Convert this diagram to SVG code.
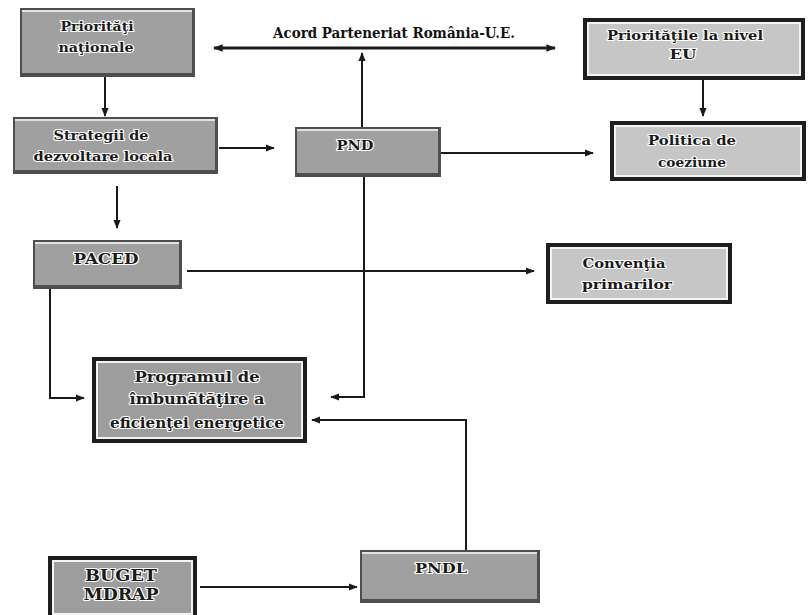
<svg xmlns="http://www.w3.org/2000/svg" width="808" height="615" viewBox="0 0 808 615">
<defs>
<marker id="ah" viewBox="0 0 10 10" refX="9" refY="5" markerWidth="4.5" markerHeight="4.5" orient="auto-start-reverse" markerUnits="strokeWidth">
<path d="M0,1 L10,5 L0,9 Z" fill="#1a1a1a"/>
</marker>
<marker id="ah2" viewBox="0 0 10 10" refX="9" refY="5" markerWidth="3.2" markerHeight="3.2" orient="auto-start-reverse" markerUnits="strokeWidth">
<path d="M0,1 L10,5 L0,9 Z" fill="#1a1a1a"/>
</marker>
</defs>
<style>
.bo{fill:#4e4e4e}
.bi{fill:#a0a0a0}
.bh{stroke:#e2e2e2;stroke-width:2;fill:none}
.fo{fill:#1e1e1e}
.fw{fill:none;stroke:#f4f4f4;stroke-width:2}
.fg{fill:#9d9d9d}
.fl{fill:#c6c6c6}
.t{font-family:"DejaVu Serif","Liberation Serif",serif;font-weight:bold;font-size:13px;fill:#1a1a1a;text-anchor:middle;stroke:#ffffff;stroke-width:2.2px;paint-order:stroke;stroke-linejoin:round}
.tm{font-size:14px}
.tl{font-size:16px}
.c{fill:none;stroke:#1a1a1a;stroke-width:2}
.cw{fill:none;stroke:#1a1a1a;stroke-width:3}
.lab{font-family:"DejaVu Serif","Liberation Serif",serif;font-weight:bold;font-size:14px;fill:#111;text-anchor:middle}
</style>
<rect width="808" height="615" fill="#ffffff"/>

<g id="connectors">
<line class="cw" x1="214" y1="48" x2="555" y2="48" marker-start="url(#ah2)" marker-end="url(#ah2)"/>
<line class="c" x1="362" y1="127" x2="362" y2="53" marker-end="url(#ah)"/>
<line class="c" x1="105" y1="77" x2="105" y2="116" marker-end="url(#ah)"/>
<line class="c" x1="219" y1="148" x2="274" y2="148" marker-end="url(#ah)"/>
<line class="c" x1="441" y1="153" x2="593" y2="153" marker-end="url(#ah)"/>
<line class="c" x1="703" y1="80" x2="703" y2="116" marker-end="url(#ah)"/>
<line class="c" x1="117" y1="186" x2="117" y2="228" marker-end="url(#ah)"/>
<line class="c" x1="187" y1="271" x2="534" y2="271" marker-end="url(#ah)"/>
<polyline class="c" points="364,177 364,397 331,397" marker-end="url(#ah)"/>
<polyline class="c" points="50,289 50,398 84,398" marker-end="url(#ah)"/>
<polyline class="c" points="466,550 466,420 312,420" marker-end="url(#ah)"/>
<line class="c" x1="200" y1="587" x2="357" y2="587" marker-end="url(#ah)"/>
<text class="lab" x="394" y="38" textLength="242" lengthAdjust="spacingAndGlyphs">Acord Parteneriat România-U.E.</text>
</g>

<g id="n-prioritati-nationale">
<rect class="bo" x="20" y="8" width="175" height="69"/>
<rect class="bi" x="22" y="10" width="170" height="63"/>
<path class="bh" d="M22,11 H192"/>
<text class="t" x="97" y="31" textLength="73" lengthAdjust="spacingAndGlyphs">Priorităţi</text>
<text class="t" x="96" y="52" textLength="75" lengthAdjust="spacingAndGlyphs">naţionale</text>
</g>

<g id="n-strategii">
<rect class="bo" x="13" y="117" width="205" height="57"/>
<rect class="bi" x="15" y="119" width="200" height="51"/>
<path class="bh" d="M15,120 H215"/>
<text class="t" x="101" y="140" textLength="95" lengthAdjust="spacingAndGlyphs">Strategii de</text>
<text class="t" x="103" y="161" textLength="139" lengthAdjust="spacingAndGlyphs">dezvoltare locala</text>
</g>

<g id="n-pnd">
<rect class="bo" x="295" y="127" width="146" height="50"/>
<rect class="bi" x="297" y="129" width="141" height="44"/>
<path class="bh" d="M297,130 H438"/>
<text class="t" x="355" y="150" textLength="37" lengthAdjust="spacingAndGlyphs">PND</text>
</g>

<g id="n-prioritati-eu">
<rect class="fo" x="583" y="18" width="222" height="62"/>
<rect class="fl" x="587" y="22" width="214" height="54"/>
<rect class="fw" x="588" y="23" width="212" height="52"/>
<text class="t" x="685" y="40" textLength="156" lengthAdjust="spacingAndGlyphs">Priorităţile la nivel</text>
<text class="t" x="683" y="59" textLength="27" lengthAdjust="spacingAndGlyphs">EU</text>
</g>

<g id="n-politica">
<rect class="fo" x="610" y="121" width="196" height="60"/>
<rect class="fl" x="614" y="125" width="188" height="52"/>
<rect class="fw" x="615" y="126" width="186" height="50"/>
<text class="t" x="692" y="145" textLength="88" lengthAdjust="spacingAndGlyphs">Politica de</text>
<text class="t" x="692" y="167" textLength="68" lengthAdjust="spacingAndGlyphs">coeziune</text>
</g>

<g id="n-paced">
<rect class="bo" x="33" y="240" width="149" height="49"/>
<rect class="bi" x="35" y="242" width="144" height="43"/>
<path class="bh" d="M35,243 H179"/>
<text class="t tm" x="106" y="264" textLength="65" lengthAdjust="spacingAndGlyphs">PACED</text>
</g>

<g id="n-conventia">
<rect class="fo" x="546" y="243" width="186" height="61"/>
<rect class="fl" x="550" y="247" width="178" height="53"/>
<rect class="fw" x="551" y="248" width="176" height="51"/>
<text class="t" x="624" y="268" textLength="83" lengthAdjust="spacingAndGlyphs">Convenţia</text>
<text class="t" x="627" y="289" textLength="90" lengthAdjust="spacingAndGlyphs">primarilor</text>
</g>

<g id="n-programul">
<rect class="fo" x="92" y="357" width="215" height="86"/>
<rect class="fg" x="96" y="361" width="207" height="78"/>
<rect class="fw" x="97" y="362" width="205" height="76"/>
<text class="t tm" x="197" y="382" textLength="125" lengthAdjust="spacingAndGlyphs">Programul de</text>
<text class="t tm" x="197" y="404" textLength="135" lengthAdjust="spacingAndGlyphs">îmbunătăţire a</text>
<text class="t tm" x="197" y="428" textLength="174" lengthAdjust="spacingAndGlyphs">eficienţei energetice</text>
</g>

<g id="n-buget">
<rect class="fo" x="48" y="556" width="149" height="59"/>
<rect class="fg" x="52" y="560" width="141" height="55"/>
<rect class="fw" x="53" y="561" width="139" height="53"/>
<text class="t tl" x="121" y="581" textLength="72" lengthAdjust="spacingAndGlyphs">BUGET</text>
<text class="t tl" x="121" y="600" textLength="75" lengthAdjust="spacingAndGlyphs">MDRAP</text>
</g>

<g id="n-pndl">
<rect class="bo" x="360" y="550" width="180" height="53"/>
<rect class="bi" x="362" y="552" width="175" height="47"/>
<path class="bh" d="M362,553 H537"/>
<text class="t" x="441" y="573" textLength="52" lengthAdjust="spacingAndGlyphs">PNDL</text>
</g>
</svg>
